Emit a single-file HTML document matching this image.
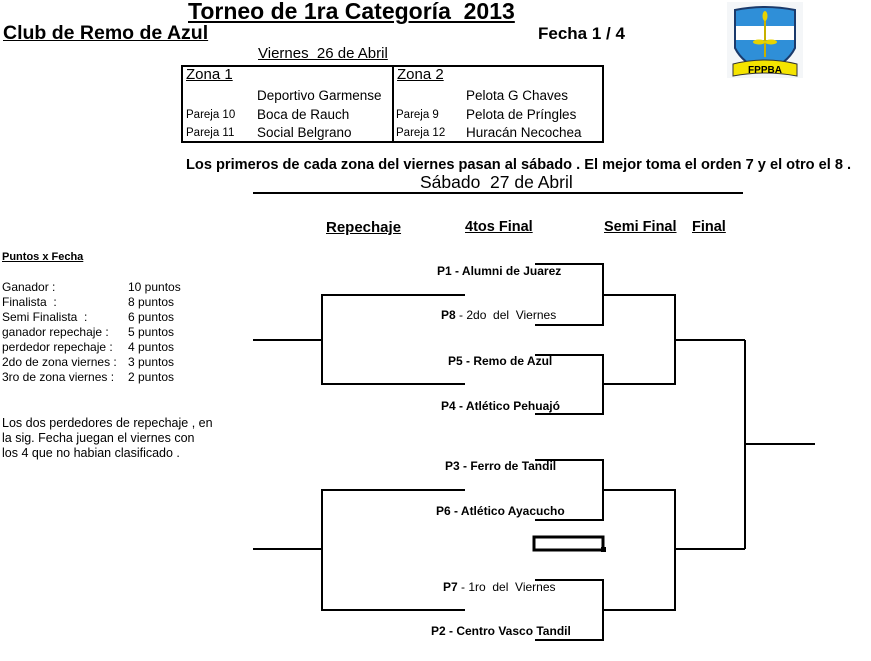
<!DOCTYPE html>
<html><head><meta charset="utf-8"><style>
body{margin:0;width:871px;height:661px;background:#fff;position:relative;overflow:hidden;font-family:"Liberation Sans",Arial,sans-serif;color:#000}
.t{position:absolute;white-space:nowrap;line-height:1}
.b{font-weight:bold}.u{text-decoration:underline}
.l{position:absolute;background:#000}
</style></head><body>
<div class="t b u" style="left:188px;top:0px;font-size:23px">Torneo de 1ra Categoría&nbsp; 2013</div>
<div class="t b u" style="left:3px;top:24px;font-size:19.5px">Club de Remo de Azul</div>
<div class="t b" style="left:538px;top:25px;font-size:17px">Fecha 1 / 4</div>
<div class="t u" style="left:258px;top:46px;font-size:15px">Viernes&nbsp; 26 de Abril</div>
<div style="position:absolute;left:181px;top:65px;width:419px;height:74px;border:2px solid #000"></div>
<div class="l" style="left:392px;top:65px;width:2px;height:77px"></div>
<div class="t u" style="left:186px;top:67px;font-size:15px">Zona 1</div>
<div class="t u" style="left:397px;top:67px;font-size:15px">Zona 2</div>
<div class="t" style="left:257px;top:89px;font-size:13.5px">Deportivo Garmense</div>
<div class="t" style="left:257px;top:108px;font-size:13.5px">Boca de Rauch</div>
<div class="t" style="left:257px;top:126px;font-size:13.5px">Social Belgrano</div>
<div class="t" style="left:186px;top:110px;font-size:11.5px">Pareja 10</div>
<div class="t" style="left:186px;top:128px;font-size:11.5px">Pareja 11</div>
<div class="t" style="left:466px;top:89px;font-size:13.5px">Pelota G Chaves</div>
<div class="t" style="left:466px;top:108px;font-size:13.5px">Pelota de Príngles</div>
<div class="t" style="left:466px;top:126px;font-size:13.5px">Huracán Necochea</div>
<div class="t" style="left:396px;top:110px;font-size:11.5px">Pareja 9</div>
<div class="t" style="left:396px;top:128px;font-size:11.5px">Pareja 12</div>
<div class="t b" style="left:186px;top:158px;font-size:14.6px">Los primeros de cada zona del viernes pasan al sábado . El mejor toma el orden 7 y el otro el 8 .</div>
<div class="t" style="left:420px;top:174px;font-size:17.5px">Sábado&nbsp; 27 de Abril</div>
<div class="l" style="left:253px;top:192px;width:490px;height:2px"></div>
<svg style="position:absolute;left:727px;top:2px" width="76" height="76" viewBox="0 0 76 76">
<rect width="76" height="76" fill="#f4f6f8"/>
<path d="M8 8 Q38 2 68 8 L68 46 Q60 62 38 70 Q16 62 8 46Z" fill="#2f8fd8" stroke="#1b3a6b" stroke-width="2"/>
<rect x="9" y="24" width="58" height="14" fill="#fff"/>
<path d="M38 12 L38 55" stroke="#c8b000" stroke-width="2"/>
<ellipse cx="32" cy="40" rx="6" ry="2.5" fill="#e8d300"/><ellipse cx="44" cy="40" rx="6" ry="2.5" fill="#e8d300"/>
<ellipse cx="38" cy="14" rx="2.5" ry="5" fill="#e8d300"/>
<path d="M6 62 Q38 54 70 62 L70 74 Q38 68 6 74Z" fill="#f5e400" stroke="#333" stroke-width="1"/>
<text x="38" y="71" font-size="10" font-weight="bold" text-anchor="middle" font-family="Liberation Sans">FPPBA</text>
</svg>
<div class="t b u" style="left:2px;top:252px;font-size:11px">Puntos x Fecha</div>
<div style="position:absolute;left:2px;top:280px;font-size:12px;line-height:15px">Ganador :<br>Finalista&nbsp; :<br>Semi Finalista&nbsp; :<br>ganador repechaje :<br>perdedor repechaje :<br>2do de zona viernes :<br>3ro de zona viernes :</div>
<div style="position:absolute;left:128px;top:280px;font-size:12px;line-height:15px">10 puntos<br>8 puntos<br>6 puntos<br>5 puntos<br>4 puntos<br>3 puntos<br>2 puntos</div>
<div style="position:absolute;left:2px;top:416px;font-size:12.5px;line-height:15px">Los dos perdedores de repechaje , en<br>la sig. Fecha juegan el viernes con<br>los 4 que no habian clasificado .</div>
<div class="t b u" style="left:326px;top:220px;font-size:15px">Repechaje</div>
<div class="t b u" style="left:465px;top:220px;font-size:14.5px">4tos Final</div>
<div class="t b u" style="left:604px;top:220px;font-size:14.5px">Semi Final</div>
<div class="t b u" style="left:692px;top:220px;font-size:14.5px">Final</div>
<svg style="position:absolute;left:0;top:0" width="871" height="661">
<g stroke="#000" stroke-width="2" fill="none">
<path d="M253 340H322M465 295H322V384H465"/>
<path d="M253 549H322M465 490H322V610H465"/>
<path d="M535 264H603V325H535M535 355H603V414H535M603 295H675V384H603M675 340H745"/>
<path d="M535 460H603V520H535M535 580H603V640H535M603 490H675V610H603M675 549H745"/>
<path d="M745 340V549M745 444H815"/>
</g>
<rect x="534" y="537" width="69" height="13" fill="none" stroke="#000" stroke-width="3"/>
<rect x="601" y="547" width="5" height="5" fill="#000"/>
</svg>
<div class="t b" style="left:437px;top:265px;font-size:12px">P1 - Alumni de Juarez</div>
<div class="t" style="left:441px;top:309px;font-size:12px"><b>P8</b> - 2do&nbsp; del&nbsp; Viernes</div>
<div class="t b" style="left:448px;top:355px;font-size:12px">P5 - Remo de Azul</div>
<div class="t b" style="left:441px;top:400px;font-size:12px">P4 - Atlético Pehuajó</div>
<div class="t b" style="left:445px;top:460px;font-size:12px">P3 - Ferro de Tandil</div>
<div class="t b" style="left:436px;top:505px;font-size:12px">P6 - Atlético Ayacucho</div>
<div class="t" style="left:443px;top:581px;font-size:12px"><b>P7</b> - 1ro&nbsp; del&nbsp; Viernes</div>
<div class="t b" style="left:431px;top:625px;font-size:12px">P2 - Centro Vasco Tandil</div>
</body></html>
